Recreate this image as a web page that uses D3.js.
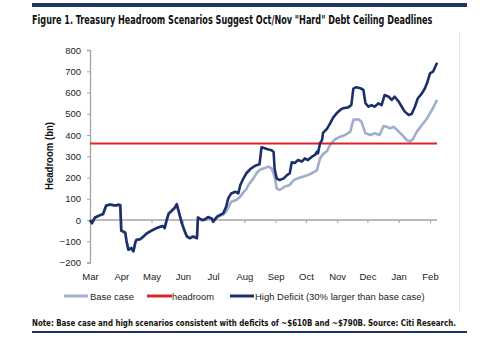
<!DOCTYPE html>
<html><head><meta charset="utf-8">
<script src="https://cdn.jsdelivr.net/npm/d3@7"></script>
<style>
html,body{margin:0;padding:0;background:#fff;}
svg{display:block;}
</style></head>
<body>
<svg id="chart" width="499" height="340"></svg>
<script>
// ---- data ----
const monthLabels = ["Mar","Apr","May","Jun","Jul","Aug","Sep","Oct","Nov","Dec","Jan","Feb"];
const yTicks = [-200,-100,0,100,200,300,400,500,600,700,800];
const headroomDates = ["2013-03-01","2014-02-08"];
const headroomValues = [360, 360];

const highDates = ["2013-03-01","2013-03-03","2013-03-06","2013-03-11","2013-03-14","2013-03-17","2013-03-21","2013-03-26","2013-03-29","2013-03-31",
"2013-04-01","2013-04-05","2013-04-06","2013-04-08","2013-04-11","2013-04-13","2013-04-15","2013-04-16","2013-04-20","2013-04-23","2013-04-26",
"2013-05-01","2013-05-06","2013-05-09","2013-05-12","2013-05-14","2013-05-16","2013-05-18","2013-05-21","2013-05-24","2013-05-26","2013-05-28","2013-05-31",
"2013-06-03","2013-06-05","2013-06-08","2013-06-11","2013-06-15","2013-06-16","2013-06-20","2013-06-23","2013-06-26","2013-06-30",
"2013-07-01","2013-07-05","2013-07-08","2013-07-11","2013-07-14","2013-07-16","2013-07-19","2013-07-23","2013-07-26","2013-07-28","2013-07-31",
"2013-08-03","2013-08-07","2013-08-10","2013-08-13","2013-08-16","2013-08-18","2013-08-21","2013-08-25","2013-08-28","2013-08-30","2013-08-31",
"2013-09-02","2013-09-05","2013-09-09","2013-09-12","2013-09-15","2013-09-17","2013-09-20","2013-09-23","2013-09-27","2013-09-30",
"2013-10-03","2013-10-07","2013-10-10","2013-10-12","2013-10-13","2013-10-15","2013-10-17","2013-10-18","2013-10-22","2013-10-25","2013-10-28",
"2013-11-01","2013-11-04","2013-11-07","2013-11-12","2013-11-15","2013-11-17","2013-11-20","2013-11-24","2013-11-27","2013-11-29",
"2013-12-02","2013-12-05","2013-12-08","2013-12-12","2013-12-15","2013-12-18","2013-12-22","2013-12-25","2013-12-28",
"2014-01-01","2014-01-04","2014-01-07","2014-01-11","2014-01-14","2014-01-17","2014-01-20","2014-01-24","2014-01-27","2014-01-29",
"2014-02-01","2014-02-04","2014-02-08"];
const highValues = [0,-15,12,23,28,68,73,68,72,70,
-50,-60,-95,-140,-132,-148,-105,-94,-90,-78,-64,
-50,-38,-33,-28,-38,0,31,44,58,75,40,-15,
-55,-78,-86,-78,-86,12,0,3,14,6,
-8,16,24,31,63,102,125,133,125,165,195,
220,240,250,258,262,342,338,332,328,320,240,
196,188,196,210,220,272,268,282,275,290,
282,298,306,322,314,361,376,410,430,455,482,
505,518,526,530,541,618,625,620,612,550,
533,541,533,549,541,588,580,565,580,
557,533,510,494,500,533,573,596,620,643,
690,698,740];

const baseDates = ["2013-03-01","2013-03-03","2013-03-06","2013-03-11","2013-03-14","2013-03-17","2013-03-21","2013-03-26","2013-03-29","2013-03-31",
"2013-04-01","2013-04-05","2013-04-06","2013-04-08","2013-04-11","2013-04-13","2013-04-15","2013-04-16","2013-04-20","2013-04-23","2013-04-26",
"2013-05-01","2013-05-06","2013-05-09","2013-05-12","2013-05-14","2013-05-16","2013-05-18","2013-05-21","2013-05-24","2013-05-26","2013-05-28","2013-05-31",
"2013-06-03","2013-06-05","2013-06-08","2013-06-11","2013-06-15","2013-06-16","2013-06-20","2013-06-23","2013-06-26","2013-06-30",
"2013-07-01","2013-07-05","2013-07-08","2013-07-11","2013-07-14","2013-07-19","2013-07-24","2013-07-28","2013-07-31",
"2013-08-03","2013-08-05","2013-08-10","2013-08-13","2013-08-16","2013-08-20","2013-08-25","2013-08-28","2013-08-31",
"2013-09-02","2013-09-05","2013-09-10","2013-09-15","2013-09-19","2013-09-23","2013-09-28",
"2013-10-03","2013-10-07","2013-10-12","2013-10-15","2013-10-18","2013-10-22","2013-10-25","2013-10-30",
"2013-11-04","2013-11-09","2013-11-14","2013-11-17","2013-11-22","2013-11-25","2013-11-29",
"2013-12-04","2013-12-08","2013-12-13","2013-12-17","2013-12-20","2013-12-23","2013-12-27",
"2014-01-01","2014-01-06","2014-01-09","2014-01-12","2014-01-15","2014-01-19","2014-01-24","2014-01-29",
"2014-02-03","2014-02-08"];
const baseValues = [0,-15,12,22,27,66,72,67,71,69,
-50,-60,-93,-138,-130,-146,-104,-92,-89,-77,-63,
-50,-38,-33,-29,-38,-2,28,40,54,68,35,-15,
-52,-75,-82,-76,-82,8,-2,1,11,3,
-9,13,20,26,39,86,94,110,130,
145,165,196,220,235,243,251,243,204,
149,141,157,165,188,196,204,
212,220,235,290,310,325,355,380,
392,400,416,471,474,463,408,
400,408,400,442,439,431,439,
416,392,376,370,380,416,447,478,
518,565];

// ---- chart ----
const svg = d3.select("#chart");
const parse = d3.timeParse("%Y-%m-%d");
const x = d3.scaleTime().domain([parse("2013-03-01"), parse("2014-02-01")]).range([90, 430]);
const y = d3.scaleLinear().domain([-200, 800]).range([262.5, 50]);

const navy = "#1d2f6a";
const lightBlue = "#9eaecb";
const red = "#d8262a";
const axisGray = "#a4a4a4";
const labelFont = "'Liberation Sans', Arial, sans-serif";
const narrowFont = "'Liberation Sans Narrow','DejaVu Sans Condensed','Liberation Sans',Arial,sans-serif";

// text fitted to a target width by horizontal scaling (keeps bbox accurate)
function fitText(parent, txt, x0, y0, width, attrs, anchorMiddle) {
  const g = parent.append("g");
  const t = g.append("text").text(txt);
  Object.entries(attrs).forEach(([k, v]) => t.attr(k, v));
  const w = t.node().getComputedTextLength() || width;
  const s = width / w;
  if (anchorMiddle) {
    t.attr("text-anchor", "middle");
  }
  g.attr("transform", `translate(${x0},${y0}) scale(${s},1)`);
  return g;
}

// top / bottom bars
svg.append("rect").attr("x", 32).attr("y", 3).attr("width", 435).attr("height", 4).attr("fill", "#1f3366");
svg.append("rect").attr("x", 32).attr("y", 331).attr("width", 435).attr("height", 2).attr("fill", "#1f3366");
// light right border of chart area
svg.append("line").attr("x1", 459.5).attr("x2", 459.5).attr("y1", 33).attr("y2", 311).attr("stroke", "#e6e6e6").attr("stroke-width", 1);

// title
fitText(svg, "Figure 1. Treasury Headroom Scenarios Suggest Oct/Nov \"Hard\" Debt Ceiling Deadlines",
  32, 24, 401, {"font-family": narrowFont, "font-weight": "bold", "font-size": 12.5, "fill": "#111"});

// y axis
const yAxis = d3.axisLeft(y).tickValues(yTicks).tickSize(3).tickPadding(6).tickFormat(d3.format("d"));
const gy = svg.append("g").attr("transform", "translate(90,0)").call(yAxis);
gy.select(".domain").attr("stroke", axisGray).attr("stroke-width", 1.3);
gy.selectAll(".tick line").attr("stroke", axisGray);
gy.selectAll(".tick text").attr("font-family", labelFont).attr("font-size", 9.5).attr("fill", "#222");

// x axis line at zero with ticks
const monthTicks = d3.timeMonth.range(parse("2013-03-01"), parse("2014-02-02"));
const xAxis = d3.axisBottom(x).tickValues(monthTicks).tickSize(3).tickSizeOuter(0).tickFormat("");
const gx = svg.append("g").attr("transform", `translate(0,${y(0)})`).call(xAxis);
gx.select(".domain").attr("stroke", axisGray).attr("stroke-width", 1.3).attr("d", `M90,0H437`);
gx.selectAll(".tick line").attr("stroke", axisGray);

// x labels at bottom
const xLab = d3.axisBottom(x).tickValues(monthTicks).tickSize(0).tickPadding(0)
  .tickFormat((d, i) => monthLabels[i]);
const gxl = svg.append("g").attr("transform", "translate(0,273)").call(xLab);
gxl.select(".domain").remove();
gxl.selectAll(".tick text").attr("font-family", labelFont).attr("font-size", 9.5).attr("fill", "#222");

// y axis title
svg.append("text").attr("transform", "translate(53,156) rotate(-90)")
  .attr("text-anchor", "middle").attr("font-family", labelFont).attr("font-weight", "bold")
  .attr("font-size", 10).attr("fill", "#111")
  .attr("textLength", 68).attr("lengthAdjust", "spacingAndGlyphs")
  .text("Headroom (bn)");

// lines
const line = d3.line().x(d => x(d.date)).y(d => y(d.value));
const mk = (ds, vs) => ds.map((d, i) => ({date: parse(d), value: vs[i]}));

svg.append("path").datum(mk(baseDates, baseValues)).attr("d", line)
  .attr("fill", "none").attr("stroke", lightBlue).attr("stroke-width", 2.6).attr("stroke-linejoin", "round");
svg.append("path").datum(mk(headroomDates, headroomValues)).attr("d", line)
  .attr("fill", "none").attr("stroke", red).attr("stroke-width", 2);
svg.append("path").datum(mk(highDates, highValues)).attr("d", line)
  .attr("fill", "none").attr("stroke", navy).attr("stroke-width", 2.6).attr("stroke-linejoin", "round");

// legend
const legend = [
  {label: "Base case", color: lightBlue, x1: 64, x2: 88, tx: 90, w: 44},
  {label: "headroom", color: red, x1: 147, x2: 172, tx: 172, w: 42},
  {label: "High Deficit  (30% larger than base case)", color: navy, x1: 230, x2: 254, tx: 255, w: 170}
];
const lg = svg.append("g");
legend.forEach(l => {
  lg.append("line").attr("x1", l.x1).attr("x2", l.x2).attr("y1", 296).attr("y2", 296)
    .attr("stroke", l.color).attr("stroke-width", 3);
  fitText(lg, l.label, l.tx, 299.5, l.w, {"font-family": labelFont, "font-size": 9.5, "fill": "#222"});
});

// note
fitText(svg, "Note: Base case and high scenarios consistent with deficits of ~$610B and ~$790B. Source: Citi Research.",
  32, 326, 424, {"font-family": narrowFont, "font-weight": "bold", "font-size": 9, "fill": "#111"});
</script>
</body></html>
